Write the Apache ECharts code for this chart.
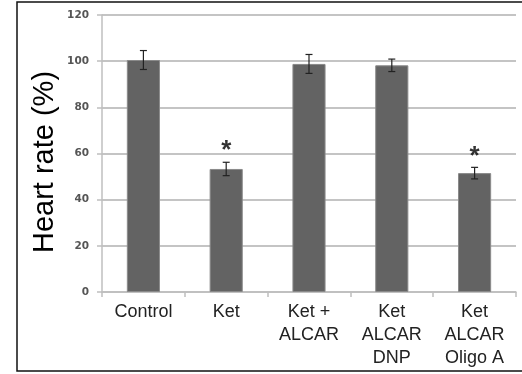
<!DOCTYPE html>
<html>
<head>
<meta charset="utf-8">
<style>html,body{margin:0;padding:0;background:#fff;}#c{width:522px;height:374px;}</style>
<script src="https://cdn.jsdelivr.net/npm/echarts@6/dist/echarts.min.js"></script>
</head>
<body>
<div id="c"></div>
<script>
var categories = ['Control', 'Ket', 'Ket +\nALCAR', 'Ket\nALCAR\nDNP', 'Ket\nALCAR\nOligo A'];
var heartRate = [100.5, 53.3, 98.8, 98.2, 51.5];
var errors = [4.1, 2.9, 4.1, 2.7, 2.5];
var significant = [false, true, false, false, true];
var yTicks = [0, 20, 40, 60, 80, 100, 120];
var yTitle = 'Heart rate (%)';

var chart = echarts.init(document.getElementById('c'));
var errData = heartRate.map(function (v, i) { return [i, v - errors[i], v + errors[i]]; });
var starData = heartRate.map(function (v, i) { return significant[i] ? [i, v + errors[i]] : null; }).filter(function (d) { return d; });

chart.setOption({
  animation: false,
  graphic: [{
    type: 'polyline', shape: { points: [[560, 2], [17, 2], [17, 371], [560, 371]] },
    style: { fill: 'none', stroke: '#111', lineWidth: 1.5 }, silent: true
  }, {
    type: 'text', x: 45, y: 162, rotation: Math.PI / 2,
    style: { text: yTitle, fill: '#000', fontSize: 29, fontFamily: 'Liberation Sans, Arial, sans-serif', align: 'center', verticalAlign: 'middle' }
  }],
  grid: { left: 102, right: 6, top: 15, bottom: 82 },
  xAxis: {
    type: 'category', data: categories,
    axisLine: { lineStyle: { color: '#bfbfbf', width: 1.5 } },
    axisTick: { show: true, length: 5, lineStyle: { color: '#bfbfbf', width: 1.5 } },
    axisLabel: { color: '#222', fontSize: 18, fontFamily: 'Liberation Sans, Arial, sans-serif', lineHeight: 23, margin: 9, interval: 0 }
  },
  yAxis: {
    type: 'value', min: yTicks[0], max: yTicks[yTicks.length - 1], interval: 20,
    axisLine: { show: true, lineStyle: { color: '#bfbfbf', width: 1.5 } },
    axisTick: { show: true, length: 5, lineStyle: { color: '#bfbfbf', width: 1.5 } },
    axisLabel: { color: '#555', fontSize: 10.5, fontWeight: 'bold', fontFamily: 'DejaVu Sans, Verdana, sans-serif', margin: 13 },
    splitLine: { lineStyle: { color: '#c4c4c4', width: 1.8 } }
  },
  series: [
    {
      type: 'bar', data: heartRate, barWidth: '40%',
      itemStyle: { color: '#636363', borderColor: '#8a8a8a', borderWidth: 1 }
    },
    {
      type: 'custom', data: errData, z: 5,
      renderItem: function (params, api) {
        var x = api.value(0);
        var lo = api.coord([x, api.value(1)]);
        var hi = api.coord([x, api.value(2)]);
        var w = 3.5;
        var st = { stroke: '#222', lineWidth: 1.2 };
        return { type: 'group', children: [
          { type: 'line', shape: { x1: lo[0], y1: lo[1], x2: hi[0], y2: hi[1] }, style: st },
          { type: 'line', shape: { x1: lo[0] - w, y1: lo[1], x2: lo[0] + w, y2: lo[1] }, style: st },
          { type: 'line', shape: { x1: hi[0] - w, y1: hi[1], x2: hi[0] + w, y2: hi[1] }, style: st }
        ]};
      }
    },
    {
      type: 'scatter', data: starData, symbolSize: 0.01, z: 6,
      label: { show: true, position: 'top', distance: -2, formatter: '*', color: '#000', fontSize: 26, fontWeight: 'bold', fontFamily: 'Liberation Sans, Arial, sans-serif' }
    }
  ]
});
</script>
</body>
</html>
